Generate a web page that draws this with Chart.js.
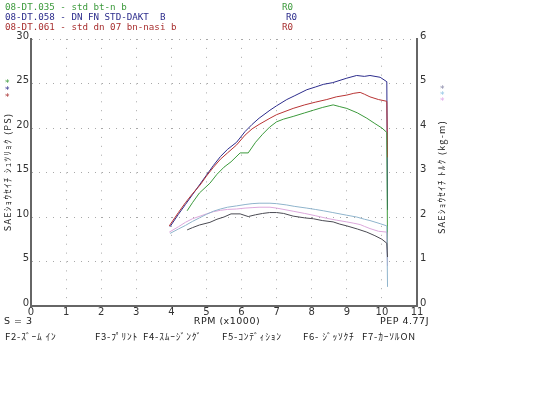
<!DOCTYPE html>
<html>
<head>
<meta charset="utf-8">
<script src="https://cdn.jsdelivr.net/npm/chart.js@4.4.0/dist/chart.umd.min.js"></script>
<style>
html, body { margin: 0; padding: 0; background: #fff; }
</style>
</head>
<body>
<canvas id="grafica" width="560" height="420"></canvas>
<script>
// corrida 08-DT.035 (verde)
const rpm_verde = [4.45, 4.6, 4.8, 5.1, 5.3, 5.5, 5.7, 5.96, 6.19, 6.4, 6.6, 6.8, 7.0, 7.2, 7.47, 7.8, 8.05, 8.3, 8.61, 8.8, 9.0, 9.3, 9.57, 9.8, 10.0, 10.14, 10.16]
const ps_verde = [10.7, 11.6, 12.7, 13.8, 14.8, 15.6, 16.2, 17.2, 17.2, 18.4, 19.3, 20.1, 20.7, 21.0, 21.3, 21.7, 22.0, 22.3, 22.6, 22.4, 22.2, 21.7, 21.1, 20.5, 20.0, 19.5, 6.3]
const kgm_verde = [1.71, 1.76, 1.82, 1.88, 1.95, 2.0, 2.07, 2.07, 2.01, 2.05, 2.08, 2.10, 2.10, 2.08, 2.02, 1.98, 1.96, 1.92, 1.89, 1.84, 1.80, 1.73, 1.66, 1.58, 1.50, 1.41, 1.1]

// corrida 08-DT.058 (azul)
const rpm_azul = [3.96, 4.2, 4.4, 4.6, 4.8, 5.0, 5.2, 5.4, 5.6, 5.86, 6.1, 6.3, 6.5, 6.81, 7.0, 7.29, 7.5, 7.86, 8.1, 8.33, 8.6, 9.0, 9.28, 9.5, 9.66, 9.95, 10.14, 10.16]
const ps_azul = [8.9, 10.3, 11.4, 12.5, 13.6, 14.7, 15.8, 16.8, 17.6, 18.4, 19.6, 20.4, 21.1, 22.0, 22.5, 23.2, 23.6, 24.3, 24.6, 24.9, 25.1, 25.6, 25.9, 25.8, 25.9, 25.7, 25.2, 10.8]
const kgm_azul = [1.63, 1.73, 1.81, 1.90, 1.98, 2.06, 2.13, 2.18, 2.22, 2.25, 2.28, 2.30, 2.31, 2.31, 2.30, 2.27, 2.24, 2.20, 2.17, 2.14, 2.10, 2.04, 2.0, 1.95, 1.92, 1.85, 1.80, 0.43]

// corrida 08-DT.061 (rojo)
const rpm_rojo = [3.94, 4.2, 4.4, 4.6, 4.82, 5.0, 5.2, 5.4, 5.6, 5.86, 6.1, 6.3, 6.5, 6.81, 7.0, 7.47, 7.8, 8.1, 8.43, 8.7, 9.0, 9.2, 9.38, 9.5, 9.66, 9.9, 10.14, 10.16]
const ps_rojo = [9.0, 10.5, 11.6, 12.6, 13.6, 14.6, 15.6, 16.5, 17.2, 18.1, 19.2, 19.9, 20.4, 21.1, 21.5, 22.2, 22.6, 22.9, 23.2, 23.5, 23.7, 23.9, 24.0, 23.8, 23.5, 23.2, 23.0, 16.7]
const kgm_rojo = [1.66, 1.78, 1.88, 1.96, 2.02, 2.07, 2.12, 2.15, 2.17, 2.18, 2.20, 2.21, 2.22, 2.22, 2.20, 2.13, 2.08, 2.03, 1.97, 1.93, 1.89, 1.86, 1.83, 1.79, 1.74, 1.68, 1.66, 0.9]

const leyenda = ["08-DT.035 - std bt-n b", "08-DT.058 - DN FN STD-DAKT  B", "08-DT.061 - std dn 07 bn-nasi b"]
const pie = ["F2-ｽﾞｰﾑ ｲﾝ", "F3-ﾌﾟﾘﾝﾄ", "F4-ｽﾑｰｼﾞﾝｸﾞ", "F5-ｺﾝﾃﾞｨｼｮﾝ", "F6- ｼﾞｯｿｸﾁ", "F7-ｶｰｿﾙON"]

function puntos(xs, ys) {
    return xs.map((x, i) => ({ x: x, y: ys[i] }))
}

const datasets = [
    { data: puntos(rpm_verde, kgm_verde), borderColor: "#4a4a52", yAxisID: "y2" },
    { data: puntos(rpm_azul, kgm_azul), borderColor: "#8fb4cc", yAxisID: "y2" },
    { data: puntos(rpm_rojo, kgm_rojo), borderColor: "#dca8dc", yAxisID: "y2" },
    { data: puntos(rpm_verde, ps_verde), borderColor: "#3c9a3c", yAxisID: "y" },
    { data: puntos(rpm_rojo, ps_rojo), borderColor: "#b83434", yAxisID: "y" },
    { data: puntos(rpm_azul, ps_azul), borderColor: "#2c2c8c", yAxisID: "y" }
]
for (const d of datasets) {
    d.borderWidth = 1
    d.pointRadius = 0
    d.tension = 0
}

const textos = {
    id: "textos",
    afterDraw(chart) {
        const ctx = chart.ctx
        ctx.save()
        ctx.textBaseline = "middle"
        ctx.textAlign = "left"
        // leyenda arriba
        const colores = ["#3c9a3c", "#2c2c8c", "#a83030"]
        ctx.font = "9.2px 'DejaVu Sans Mono'"
        leyenda.forEach((t, i) => {
            ctx.fillStyle = colores[i]
            ctx.fillText(t, 5, 8 + i * 10)
            ctx.fillText("R0", i == 1 ? 286 : 282, 8 + i * 10)
        })
        // estrellas
        ctx.font = "9px 'DejaVu Sans'"
        colores.forEach((c, i) => {
            ctx.fillStyle = c
            ctx.fillText("*", 5, 84 + i * 7)
        })
        const colores2 = ["#8888a8", "#8fc4e4", "#e0a8e8"]
        colores2.forEach((c, i) => {
            ctx.fillStyle = c
            ctx.fillText("*", 440, 90 + i * 6)
        })
        // titulos de ejes
        ctx.fillStyle = "#222"
        ctx.font = "9px 'Noto Sans CJK JP'"
        ctx.letterSpacing = "1.3px"
        ctx.textAlign = "center"
        ctx.save()
        ctx.translate(8, 172)
        ctx.rotate(-Math.PI / 2)
        ctx.fillText("SAEｼｮｳｾｲﾁ ｼｭﾂﾘｮｸ (PS)", 0, 0)
        ctx.restore()
        ctx.save()
        ctx.translate(442, 177)
        ctx.rotate(-Math.PI / 2)
        ctx.fillText("SAEｼｮｳｾｲﾁ ﾄﾙｸ (kg-m)", 0, 0)
        ctx.restore()
        // pie
        ctx.letterSpacing = "0.5px"
        ctx.font = "9.5px 'DejaVu Sans'"
        ctx.fillText("RPM (x1000)", 227, 322)
        ctx.textAlign = "left"
        ctx.fillText("S = 3", 4, 322)
        ctx.fillText("PEP 4.77J", 380, 322)
        ctx.font = "9.5px 'Noto Sans CJK JP'"
        ctx.letterSpacing = "0.8px"
        const xs = [5, 95, 143, 222, 303, 362]
        pie.forEach((t, i) => ctx.fillText(t, xs[i], 336))
        ctx.restore()
    }
}

const fuente = { family: "DejaVu Sans", size: 10 }

const config = {
    type: "line",
    data: { datasets },
    options: {
        responsive: false,
        animation: false,
        layout: { padding: { top: 39 } },
        plugins: { legend: { display: false }, tooltip: { enabled: false } },
        scales: {
            x: {
                type: "linear", min: 0, max: 11,
                ticks: { stepSize: 1, font: fuente, color: "#333", padding: 0, maxRotation: 0 },
                grid: { color: "#a8a8a8", drawTicks: false },
                border: { color: "#666", width: 2, dash: [1, 7.9] },
                afterFit(s) { s.height = 114 }
            },
            y: {
                min: 0, max: 30,
                ticks: { stepSize: 5, font: fuente, color: "#333", padding: 2, labelOffset: -3 },
                grid: { color: "#a8a8a8", drawTicks: false },
                border: { color: "#666", width: 2, dash: [1, 6] },
                afterFit(s) { s.width = 31 }
            },
            y2: {
                position: "right", min: 0, max: 6,
                ticks: { stepSize: 1, font: fuente, color: "#333", padding: 3, labelOffset: -3 },
                grid: { display: false, drawTicks: false },
                border: { color: "#666", width: 2 },
                afterFit(s) { s.width = 143 }
            }
        }
    },
    plugins: [textos]
}

const chart = new Chart(document.getElementById("grafica"), config)
</script>
</body>
</html>
